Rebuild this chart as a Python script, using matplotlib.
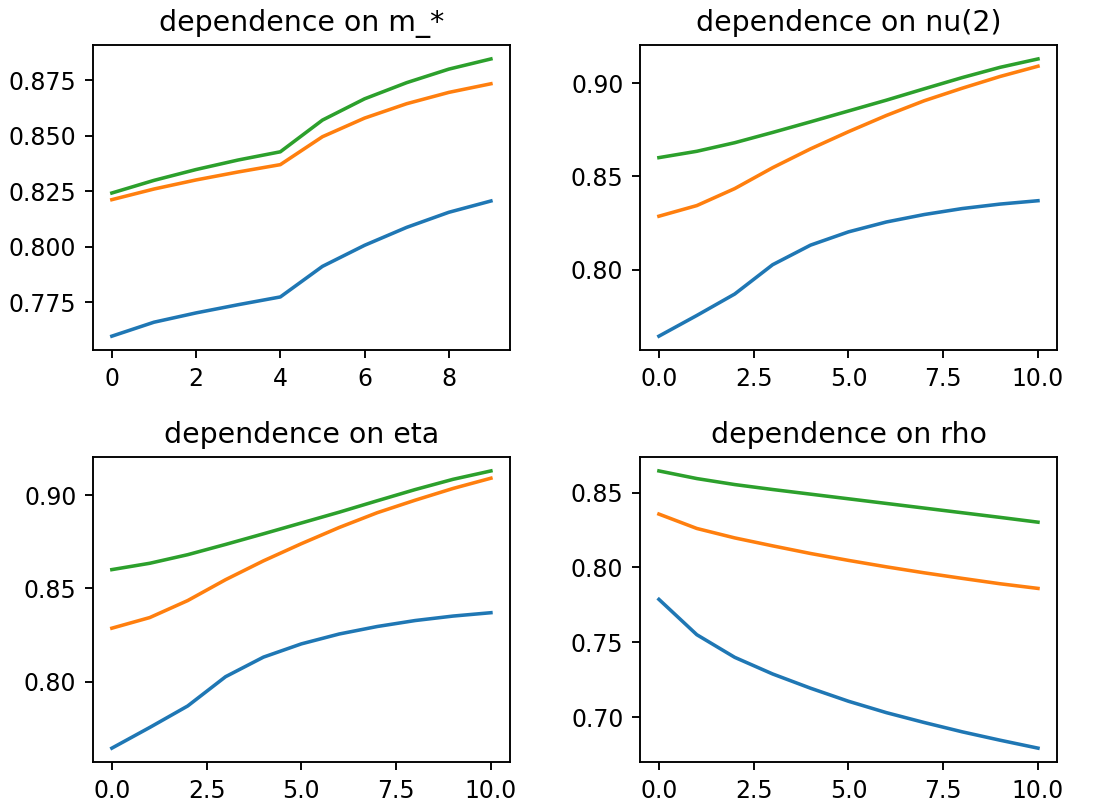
import matplotlib
matplotlib.use('Agg')
import matplotlib.pyplot as plt

# dependence on m_*
m_x = list(range(10))
m_blue = [0.7596, 0.7659, 0.7701, 0.7738, 0.7773, 0.7911, 0.8006, 0.8087, 0.8155, 0.8206]
m_orange = [0.8212, 0.8260, 0.8301, 0.8337, 0.8370, 0.8496, 0.8580, 0.8645, 0.8696, 0.8735]
m_green = [0.8242, 0.8299, 0.8348, 0.8391, 0.8428, 0.8571, 0.8667, 0.8740, 0.8801, 0.8847]

# dependence on nu(2)
nu_x = list(range(11))
nu_blue = [0.7644, 0.7755, 0.7870, 0.8027, 0.8132, 0.8203, 0.8256, 0.8296, 0.8328, 0.8352, 0.8370]
nu_orange = [0.8287, 0.8344, 0.8435, 0.8547, 0.8648, 0.8740, 0.8827, 0.8906, 0.8973, 0.9036, 0.9091]
nu_green = [0.8601, 0.8635, 0.8681, 0.8736, 0.8793, 0.8851, 0.8909, 0.8970, 0.9030, 0.9085, 0.9130]

# dependence on eta (same curves as nu(2))
eta_x = list(range(11))
eta_blue = [0.7644, 0.7755, 0.7870, 0.8027, 0.8132, 0.8203, 0.8256, 0.8296, 0.8328, 0.8352, 0.8370]
eta_orange = [0.8287, 0.8344, 0.8435, 0.8547, 0.8648, 0.8740, 0.8827, 0.8906, 0.8973, 0.9036, 0.9091]
eta_green = [0.8601, 0.8635, 0.8681, 0.8736, 0.8793, 0.8851, 0.8909, 0.8970, 0.9030, 0.9085, 0.9130]

# dependence on rho
rho_x = list(range(11))
rho_blue = [0.7787, 0.7551, 0.7400, 0.7289, 0.7194, 0.7107, 0.7031, 0.6965, 0.6903, 0.6847, 0.6794]
rho_orange = [0.8356, 0.8260, 0.8197, 0.8144, 0.8093, 0.8047, 0.8004, 0.7964, 0.7927, 0.7891, 0.7860]
rho_green = [0.8644, 0.8593, 0.8553, 0.8520, 0.8489, 0.8458, 0.8427, 0.8396, 0.8365, 0.8334, 0.8302]

panels = [
    ('dependence on m_*', m_x, [m_blue, m_orange, m_green]),
    ('dependence on nu(2)', nu_x, [nu_blue, nu_orange, nu_green]),
    ('dependence on eta', eta_x, [eta_blue, eta_orange, eta_green]),
    ('dependence on rho', rho_x, [rho_blue, rho_orange, rho_green]),
]

fig, axes = plt.subplots(2, 2, figsize=(1093 / 170, 805 / 170), dpi=170)
for ax, (title, xs, series) in zip(axes.flat, panels):
    for ys in series:
        ax.plot(xs, ys)
    ax.set_title(title)

plt.subplots_adjust(left=0.085, right=0.967, top=0.944, bottom=0.0534,
                    wspace=0.312, hspace=0.351)
plt.savefig('out.png', dpi=170)
